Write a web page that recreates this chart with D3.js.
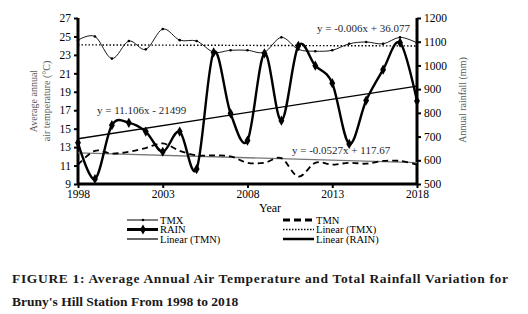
<!DOCTYPE html>
<html>
<head>
<meta charset="utf-8">
<script src="https://cdn.jsdelivr.net/npm/d3@7"></script>
<style>
  body { margin: 0; background: #fff; }
</style>
</head>
<body>
<svg id="chart" width="528" height="314"></svg>
<script>
// ====== DATA ====== \\
const years = d3.range(1998, 2019)
const tmx = [24.6, 25.0, 22.6, 24.5, 23.6, 25.8, 24.6, 24.5, 23.3, 23.5, 23.5, 23.3, 24.9, 23.6, 23.4, 23.5, 24.2, 24.4, 24.2, 24.9, 24.3]
const tmn = [11.1, 12.6, 12.3, 12.5, 12.9, 13.4, 12.6, 12.1, 12.1, 12.0, 11.3, 11.3, 11.8, 9.8, 11.3, 11.1, 11.3, 11.2, 11.5, 11.5, 11.1]
const rain = [674, 521, 748, 758, 721, 636, 721, 563, 1055, 798, 683, 1051, 767, 1083, 999, 925, 669, 852, 982, 1096, 850]

const tempTicks = [9, 11, 13, 15, 17, 19, 21, 23, 25, 27]
const rainTicks = [500, 600, 700, 800, 900, 1000, 1100, 1200]
const yearTicks = [1998, 2003, 2008, 2013, 2018]

// trend lines as written on the chart: slope, intercept
const trendTmx = [-0.006, 36.077]
const trendTmn = [-0.0527, 117.67]
const trendRain = [11.106, -21499]
const trendLabels = ['y = -0.006x + 36.077', 'y = -0.0527x + 117.67', 'y = 11.106x - 21499']

const legendLabels = ['TMX', 'TMN', 'RAIN', 'Linear (TMX)', 'Linear (TMN)', 'Linear (RAIN)']

const FONT = '"Liberation Serif", "Times New Roman", Times, serif'

// ====== SCALES ====== \\
const svg = d3.select('#chart')
const x = d3.scaleLinear().domain([1998, 2018]).range([78, 417])
const yT = d3.scaleLinear().domain([9, 27]).range([184, 18])
const yR = d3.scaleLinear().domain([500, 1200]).range([184, 18])

const smooth = d3.curveCardinal.tension(0)

// ====== AXES ====== \\
const axL = svg.append('g').attr('transform', 'translate(78,0)')
    .call(d3.axisLeft(yT).tickValues(tempTicks).tickSize(4).tickPadding(3))
const axR = svg.append('g').attr('transform', 'translate(417,0)')
    .call(d3.axisRight(yR).tickValues(rainTicks).tickFormat(d3.format('d')).tickSize(4).tickPadding(3))
const axB = svg.append('g').attr('transform', 'translate(0,184)')
    .call(d3.axisBottom(x).tickValues(yearTicks).tickFormat(d3.format('d')).tickSize(4).tickPadding(2))

;[axL, axR, axB].forEach(a => {
    a.select('.domain').attr('stroke', '#000').attr('stroke-width', 3)
    a.selectAll('.tick line').attr('stroke', '#000').attr('stroke-width', 2)
    a.selectAll('.tick text').attr('font-size', 11.5).attr('fill', '#000')
})
axL.select('.domain').attr('d', 'M0,18V184')
axR.select('.domain').attr('d', 'M0,18V184')
axB.select('.domain').attr('d', `M78,0H417`)

// axis titles
const leftTitle = svg.append('text')
    .attr('transform', 'translate(37,101) rotate(-90)')
    .attr('text-anchor', 'middle').attr('fill', '#595959').attr('font-size', 10)
leftTitle.append('tspan').attr('x', 0).attr('dy', 0).text('Average annual')
leftTitle.append('tspan').attr('x', 0).attr('dy', 12.5).text('air temperature (\u00B0C)')

svg.append('text')
    .attr('transform', 'translate(466,100) rotate(-90)')
    .attr('text-anchor', 'middle').attr('fill', '#595959').attr('font-size', 10)
    .text('Annual rainfall (mm)')

svg.append('text').attr('x', 270).attr('y', 212).attr('text-anchor', 'middle')
    .attr('font-size', 12).text('Year')

// ====== TREND LINES ====== \\
const trend = (c, yr) => c[0] * yr + c[1]
const endYears = [1998, 2018]

svg.append('path')
    .attr('d', d3.line().x(d => x(d)).y(d => yT(trend(trendTmx, d)))(endYears))
    .attr('fill', 'none').attr('stroke', '#000').attr('stroke-width', 1.4).attr('stroke-dasharray', '1.5,2')
svg.append('path')
    .attr('d', d3.line().x(d => x(d)).y(d => yT(trend(trendTmn, d)))(endYears))
    .attr('fill', 'none').attr('stroke', '#777').attr('stroke-width', 1.3)
svg.append('path')
    .attr('d', d3.line().x(d => x(d)).y(d => yR(trend(trendRain, d)))(endYears))
    .attr('fill', 'none').attr('stroke', '#000').attr('stroke-width', 1.4)

// ====== SERIES ====== \\
svg.append('path')
    .attr('d', d3.line().curve(smooth).x((d, i) => x(years[i])).y(d => yT(d))(tmx))
    .attr('fill', 'none').attr('stroke', '#000').attr('stroke-width', 0.9)
svg.selectAll('circle.tmx').data(tmx).join('circle').attr('class', 'tmx')
    .attr('cx', (d, i) => x(years[i])).attr('cy', d => yT(d)).attr('r', 1.3).attr('fill', '#000')

svg.append('path')
    .attr('d', d3.line().curve(smooth).x((d, i) => x(years[i])).y(d => yT(d))(tmn))
    .attr('fill', 'none').attr('stroke', '#000').attr('stroke-width', 1.8).attr('stroke-dasharray', '6,4')

const diamond = d3.symbol().type(d3.symbolDiamond).size(30)
svg.append('path')
    .attr('d', d3.line().curve(smooth).x((d, i) => x(years[i])).y(d => yR(d))(rain))
    .attr('fill', 'none').attr('stroke', '#000').attr('stroke-width', 2.4)
svg.selectAll('path.rainpt').data(rain).join('path').attr('class', 'rainpt')
    .attr('d', diamond)
    .attr('transform', (d, i) => `translate(${x(years[i])},${yR(d)})`)
    .attr('fill', '#000')

// ====== EQUATIONS ====== \\
const eq = [[317, 32], [292, 154], [97, 114]]
trendLabels.forEach((t, i) => {
    svg.append('text').attr('x', eq[i][0]).attr('y', eq[i][1])
        .attr('font-size', 11).attr('fill', '#1f1f2e').text(t)
})

// ====== LEGEND ====== \\
const legend = svg.append('g').attr('class', 'legend')
const legPos = [[127, 220], [283, 220], [127, 229.5], [283, 229.5], [127, 239], [283, 239]]
const legStyle = [
    { w: 1, dash: null, mark: 'dot' },
    { w: 3, dash: '7,4', mark: null },
    { w: 3, dash: null, mark: 'diamond' },
    { w: 1.4, dash: '1.5,1.5', mark: null },
    { w: 1.2, dash: null, mark: null },
    { w: 2.5, dash: null, mark: null }
]
legendLabels.forEach((label, i) => {
    const [lx, ly] = legPos[i]
    const s = legStyle[i]
    legend.append('line').attr('x1', lx).attr('x2', lx + 31).attr('y1', ly).attr('y2', ly)
        .attr('stroke', '#000').attr('stroke-width', s.w).attr('stroke-dasharray', s.dash)
    if (s.mark == 'dot') {
        legend.append('circle').attr('cx', lx + 16).attr('cy', ly).attr('r', 1.3)
    }
    if (s.mark == 'diamond') {
        legend.append('path').attr('d', diamond).attr('transform', `translate(${lx + 16},${ly})`)
    }
    legend.append('text').attr('x', lx + 33).attr('y', ly + 3.5)
        .attr('font-size', 10.5).text(label)
})

// ====== CAPTION ====== \\
svg.append('text').attr('x', 12).attr('y', 283)
    .attr('font-size', 13.5).attr('font-weight', 'bold').attr('fill', '#1a1a1a')
    .attr('textLength', 496).attr('lengthAdjust', 'spacing')
    .text('FIGURE 1: Average Annual Air Temperature and Total Rainfall Variation for')
svg.append('text').attr('x', 12).attr('y', 306)
    .attr('font-size', 13.5).attr('font-weight', 'bold').attr('fill', '#1a1a1a')
    .text("Bruny's Hill Station From 1998 to 2018")

// force the serif face on every text, inline
svg.selectAll('text').style('font-family', FONT)
</script>
</body>
</html>
